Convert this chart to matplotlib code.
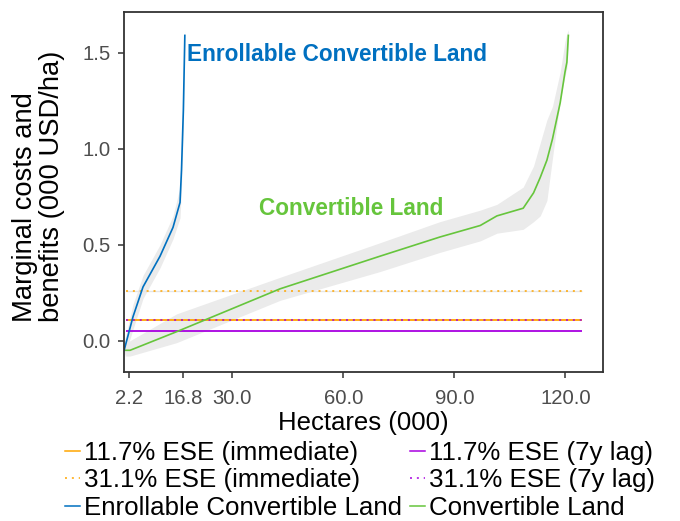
import matplotlib
matplotlib.use("Agg")
import matplotlib.pyplot as plt
from matplotlib.lines import Line2D

plt.rcParams['font.family'] = ['Liberation Sans', 'DejaVu Sans']

# enrollable convertible land (blue) marginal cost curve with band
enr_x = [0.8, 3.2, 5.9, 10.5, 14.0, 15.9, 16.3, 16.8, 17.2]
enr_y = [-0.05, 0.125, 0.28, 0.44, 0.59, 0.72, 0.89, 1.20, 1.59]
enr_hi = [-0.01, 0.19, 0.34, 0.50, 0.65, 0.80, 0.98, 1.30, 1.62]
enr_lo = [-0.09, 0.06, 0.22, 0.38, 0.53, 0.64, 0.80, 1.10, 1.56]

# convertible land (green)
conv_x = [1.2, 2.4, 15, 42.9, 69.9, 86.1, 97, 101.5, 108.6, 111.4, 113.2,
          115, 116.5, 118.6, 119.9, 120.4, 120.8]
conv_y = [-0.05, -0.05, 0.047, 0.27, 0.44, 0.54, 0.60, 0.65, 0.69, 0.77, 0.85,
          0.94, 1.05, 1.24, 1.40, 1.45, 1.59]
conv_hi = [-0.02, 0.0, 0.14, 0.33, 0.51, 0.62, 0.68, 0.71, 0.80, 0.91, 1.03,
           1.15, 1.22, 1.40, 1.56, 1.60, 1.62]
conv_lo = [-0.08, -0.08, -0.01, 0.21, 0.36, 0.46, 0.52, 0.56, 0.58, 0.62, 0.65,
           0.73, 0.95, 1.25, 1.38, 1.42, 1.55]

# benefit levels (horizontal lines)
ese_range = [1.2, 124.4]
ese117_imm = 0.108
ese311_imm = 0.26
ese117_lag = 0.052
ese311_lag = 0.108

xticks = [2.2, 16.8, 30.0, 60.0, 90.0, 120.0]
yticks = [0.0, 0.5, 1.0, 1.5]

ORANGE = '#FFA500'
PURPLE = '#A800E0'
BLUE = '#0070C0'
GREEN = '#66C53C'
DOTS = (0, (1.3, 3.2))

fig = plt.figure(figsize=(6.8, 5.21), dpi=100)
ax = fig.add_axes([0.182, 0.286, 0.705, 0.691])

ax.fill_between(conv_x, conv_lo, conv_hi, color='#EBEBEB', lw=0)
ax.fill_between(enr_x, enr_lo, enr_hi, color='#EBEBEB', lw=0)

ax.hlines(ese311_imm, *ese_range, color='#E6E6E6', lw=1.0)
ax.hlines(ese311_imm, *ese_range, color=ORANGE, lw=1.1, linestyles=DOTS)
ax.hlines(ese117_imm, *ese_range, color=ORANGE, lw=1.3)
ax.hlines(ese311_lag, *ese_range, color=PURPLE, lw=1.1, linestyles=DOTS)
ax.hlines(ese117_lag, *ese_range, color=PURPLE, lw=1.3)

ax.plot(conv_x, conv_y, color=GREEN, lw=1.2)
ax.plot(enr_x, enr_y, color=BLUE, lw=1.2)

ax.text(17.7, 1.49, 'Enrollable Convertible Land', color=BLUE, fontsize=16.3,
        fontweight='bold', ha='left', va='center')
ax.text(62, 0.69, 'Convertible Land', color=GREEN, fontsize=16.3,
        fontweight='bold', ha='center', va='center')

ax.set_xlim(0.7, 130.2)
ax.set_ylim(-0.163, 1.712)
ax.set_xticks(xticks)
ax.set_xticklabels(['%.1f' % v for v in xticks])
ax.set_yticks(yticks)
ax.set_yticklabels(['%.1f' % v for v in yticks])
ax.tick_params(colors='#333333', labelcolor='#4D4D4D', labelsize=14.6,
               length=4.3, width=1.1)
ax.tick_params(axis='x', pad=8)
ax.tick_params(axis='y', pad=5)
for s in ax.spines.values():
    s.set_color('#333333')
    s.set_linewidth(1.3)

ax.set_xlabel('Hectares (000)', fontsize=18.5, labelpad=2)
ax.set_ylabel('Marginal costs and\nbenefits (000 USD/ha)', fontsize=19.7,
              linespacing=1.04, multialignment='left')
ax.yaxis.set_label_coords(-0.123, 0.515)

handles = [
    Line2D([], [], color=ORANGE, lw=1.1),
    Line2D([], [], color=ORANGE, lw=1.1, ls=DOTS),
    Line2D([], [], color=BLUE, lw=1.1),
    Line2D([], [], color=PURPLE, lw=1.1),
    Line2D([], [], color=PURPLE, lw=1.1, ls=DOTS),
    Line2D([], [], color=GREEN, lw=1.1),
]
labels = ['11.7% ESE (immediate)', '31.1% ESE (immediate)',
          'Enrollable Convertible Land', '11.7% ESE (7y lag)',
          '31.1% ESE (7y lag)', 'Convertible Land']
fig.legend(handles, labels, ncol=2, loc='upper left',
           bbox_to_anchor=(0.0956, 1 - 441 / 521), frameon=False,
           fontsize=18.6, handlelength=0.58, handletextpad=0.15,
           columnspacing=0.32, labelspacing=0.13, borderpad=0,
           borderaxespad=0)

fig.savefig('out.png', dpi=100)
